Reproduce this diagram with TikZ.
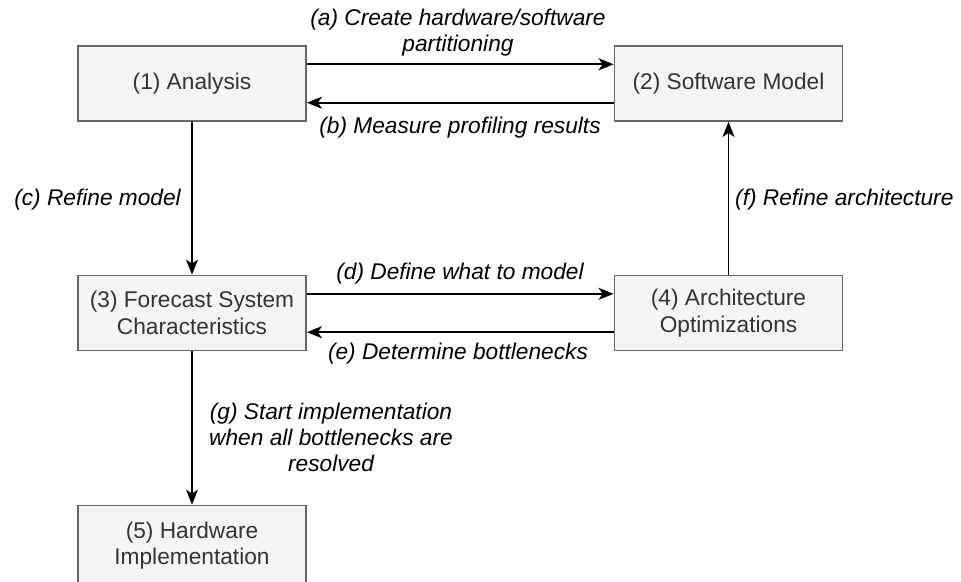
\documentclass[tikz,border=0pt]{standalone}
\usepackage{fontspec}
\setmainfont{Liberation Sans}
\usetikzlibrary{arrows.meta,calc}
\definecolor{boxfill}{HTML}{F5F5F5}
\definecolor{boxline}{HTML}{666666}
\definecolor{boxtext}{HTML}{333333}
\begin{document}
\begin{tikzpicture}[x=1pt,y=-1pt,
  stepbox/.style={draw=boxline, fill=boxfill, line width=1.8pt, minimum width=228pt, minimum height=75pt, inner sep=0pt, text=boxtext, font=\fontsize{22.7}{26.5}\selectfont, align=center},
  lbl/.style={font=\fontsize{22.7}{26}\selectfont\itshape, align=center, inner sep=0pt, text=black},
  arr/.style={line width=1.8pt, -{Stealth[length=15pt,width=12pt,inset=4pt]}}]
\useasboundingbox (0,0) rectangle (961,581);
\node[stepbox] (b1) at (192,83.5) {(1) Analysis};
\node[stepbox] (b2) at (728.5,83.5) {(2) Software Model};
\node[stepbox] (b3) at (192,313) {(3) Forecast System\\Characteristics};
\node[stepbox] (b4) at (728.5,313) {(4) Architecture\\Optimizations};
\node[stepbox, minimum height=80pt] (b5) at (192,545.5) {(5) Hardware\\Implementation};
\draw[arr] ($(b1.north east)!0.25!(b1.south east)$) -- ($(b2.north west)!0.25!(b2.south west)$);
\draw[arr] ($(b2.north west)!0.75!(b2.south west)$) -- ($(b1.north east)!0.75!(b1.south east)$);
\draw[arr] ($(b3.north east)!0.25!(b3.south east)$) -- ($(b4.north west)!0.25!(b4.south west)$);
\draw[arr] ($(b4.north west)!0.75!(b4.south west)$) -- ($(b3.north east)!0.75!(b3.south east)$);
\draw[arr] (b1.south) -- (b3.north);
\draw[arr] (b4.north) -- (b2.south);
\draw[arr] (b3.south) -- (b5.north);
\node[lbl] (la) at (458,33) {(a) Create hardware/software\\partitioning};
\node[lbl] (lb) at (460,128) {(b) Measure profiling results};
\node[lbl, anchor=east] (lc) at (181,200) {(c) Refine model};
\node[lbl, anchor=west] (lf) at (735,200) {(f) Refine architecture};
\node[lbl] (ld) at (460,274) {(d) Define what to model};
\node[lbl] (le) at (458,354) {(e) Determine bottlenecks};
\node[lbl] (lg) at (331,437) {(g) Start implementation\\when all bottlenecks are\\resolved};
\end{tikzpicture}
\end{document}
